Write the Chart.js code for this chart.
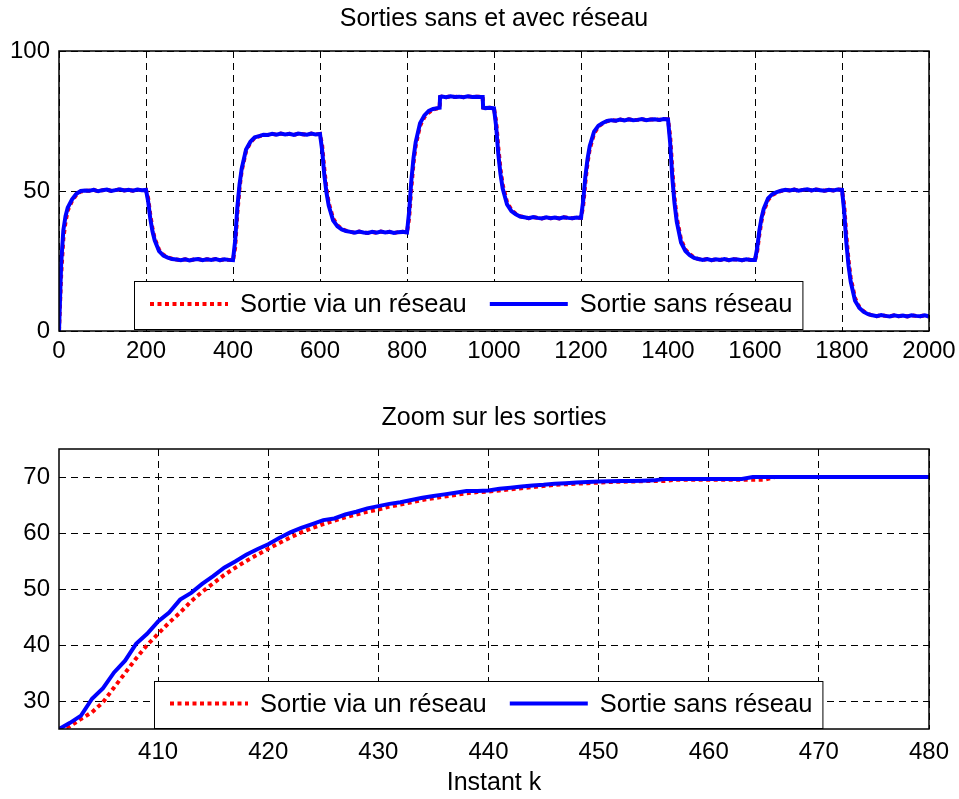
<!DOCTYPE html>
<html>
<head>
<meta charset="utf-8">
<script src="https://cdn.jsdelivr.net/npm/chart.js@4.4.0/dist/chart.umd.min.js"></script>
<style>
body { margin: 0; background: #fff; width: 959px; height: 799px; overflow: hidden; position: relative; }
canvas { position: absolute; left: 0; }
#topChart { top: 0; }
#zoomChart { top: 390px; }
</style>
</head>
<body>
<canvas id="topChart" width="959" height="380"></canvas>
<canvas id="zoomChart" width="959" height="409"></canvas>
<script>
// --- top plot : whole run, k = 0..2000 ---
const kTop = [
0,5,10,15,20,30,40,50,60,70,80,90,100,110,120,130,140,150,160,170,180,190,
200,205,210,215,220,230,240,250,260,270,280,290,300,310,320,330,340,350,360,370,380,390,
400,405,410,415,420,430,440,450,460,470,480,490,500,510,520,530,540,550,560,570,580,590,
600,605,610,615,620,630,640,650,660,670,680,690,700,710,720,730,740,750,760,770,780,790,
800,805,810,815,820,830,840,850,860,870,875,876,880,890,900,910,920,930,940,950,960,970,974,975,980,990,
1000,1005,1010,1015,1020,1030,1040,1050,1060,1070,1080,1090,1100,1110,1120,1130,1140,1150,1160,1170,1180,1190,
1200,1205,1210,1215,1220,1230,1240,1250,1260,1270,1280,1290,1300,1310,1320,1330,1340,1350,1360,1370,1380,1390,
1400,1405,1410,1415,1420,1430,1440,1450,1460,1470,1480,1490,1500,1510,1520,1530,1540,1550,1560,1570,1580,1590,
1600,1605,1610,1615,1620,1630,1640,1650,1660,1670,1680,1690,1700,1710,1720,1730,1740,1750,1760,1770,1780,1790,
1800,1805,1810,1815,1820,1830,1840,1850,1860,1870,1880,1890,1900,1910,1920,1930,1940,1950,1960,1970,1980,1990,2000
];
const yTopSans = [
0,24,36,41,44,47,49,50,50.2,50.1,50.4,49.9,50.3,50.5,50.0,50.3,50.6,50.2,50.4,50.1,50.5,50.3,
50.4,46.2,40.0,35.5,32.4,28.5,26.9,26.2,25.7,25.5,25.3,25.6,25.2,25.5,25.7,25.3,25.6,25.4,25.7,25.3,25.6,25.4,
25.3,32.3,44.2,52.3,58.0,64.8,67.6,69.2,69.6,70.1,70.0,70.4,70.1,70.5,70.2,70.4,70.0,70.5,70.3,70.1,70.5,70.2,
70.4,64.5,55.6,49.3,44.8,39.5,37.4,36.3,35.7,35.4,35.1,35.5,35.2,35.0,35.4,35.1,35.5,35.2,35.4,35.0,35.3,35.4,
35.2,42.8,53.8,61.8,67.5,74.2,77.0,78.6,79.3,79.6,79.7,83.6,83.7,83.5,83.8,83.6,83.7,83.5,83.8,83.6,83.7,83.6,83.6,79.8,79.6,79.7,
79.5,73.0,63.0,56.0,50.9,45.2,42.8,41.7,40.9,40.6,40.3,40.7,40.4,40.2,40.6,40.3,40.5,40.2,40.6,40.4,40.3,40.5,
40.4,46.4,55.1,61.4,66.0,71.2,73.3,74.3,75.0,75.3,75.1,75.5,75.2,75.6,75.3,75.4,75.7,75.3,75.5,75.6,75.4,75.7,
75.6,67.1,54.6,45.6,39.1,31.6,28.6,27.1,26.1,25.7,25.4,25.7,25.3,25.6,25.4,25.7,25.3,25.6,25.5,25.3,25.6,25.4,
25.4,29.6,35.9,40.4,43.6,47.4,48.9,49.6,50.1,50.4,50.2,50.5,50.1,50.4,50.6,50.2,50.5,50.3,50.1,50.4,50.2,50.5,
50.4,42.8,31.5,23.4,17.6,10.8,8.2,6.8,6.0,5.6,5.3,5.7,5.4,5.2,5.6,5.3,5.5,5.2,5.6,5.4,5.3,5.6,5.2
];
const yTopReseau = [
0,20,33,39,43,46.5,48.7,49.8,50.1,50.1,50.4,49.9,50.3,50.5,50.0,50.3,50.6,50.2,50.4,50.1,50.5,50.3,
50.4,47.4,41.4,36.5,33.0,29.0,27.2,26.3,25.8,25.5,25.3,25.6,25.2,25.5,25.7,25.3,25.6,25.4,25.7,25.3,25.6,25.4,
25.3,29.8,42.0,51.0,57.2,64.2,67.4,69.0,69.5,70.0,70.0,70.4,70.1,70.5,70.2,70.4,70.0,70.5,70.3,70.1,70.5,70.2,
70.4,66.2,57.8,50.7,45.8,40.2,37.8,36.5,35.8,35.4,35.1,35.5,35.2,35.0,35.4,35.1,35.5,35.2,35.4,35.0,35.3,35.4,
35.2,40.5,51.1,60.0,66.2,73.3,76.4,78.0,79.1,79.5,79.6,83.5,83.7,83.5,83.8,83.6,83.7,83.5,83.8,83.6,83.7,83.6,83.6,79.8,79.6,79.7,
79.5,74.8,65.5,57.7,52.2,46.0,43.2,41.9,41.0,40.6,40.3,40.7,40.4,40.2,40.6,40.3,40.5,40.2,40.6,40.4,40.3,40.5,
40.4,44.6,53.0,60.0,64.9,70.5,73.0,74.2,74.9,75.3,75.1,75.5,75.2,75.6,75.3,75.4,75.7,75.3,75.5,75.6,75.4,75.7,
75.6,69.6,57.6,47.6,40.6,32.6,29.1,27.4,26.3,25.7,25.4,25.7,25.3,25.6,25.4,25.7,25.3,25.6,25.5,25.3,25.6,25.4,
25.4,28.4,34.4,39.3,42.8,46.8,48.6,49.4,50.0,50.4,50.2,50.5,50.1,50.4,50.6,50.2,50.5,50.3,50.1,50.4,50.2,50.5,
50.4,45.0,34.2,25.3,19.0,11.7,8.5,7.0,6.1,5.6,5.3,5.7,5.4,5.2,5.6,5.3,5.5,5.2,5.6,5.4,5.3,5.6,5.2
];
const xTicksTop = [0,200,400,600,800,1000,1200,1400,1600,1800,2000];
const yTicksTop = [0,50,100];

// --- bottom plot : zoom on k = 401..480 ---
const kZoom = [
401,402,403,404,405,406,407,408,409,410,411,412,413,414,415,416,417,418,419,420,
421,422,423,424,425,426,427,428,429,430,431,432,433,434,435,436,437,438,439,440,
441,442,443,444,445,446,447,448,449,450,451,452,453,454,455,456,457,458,459,460,
461,462,463,464,465,466,467,468,469,470,471,472,473,474,475,476,477,478,479,480
];
const yZoomSans = [
25.0,26.1,27.4,30.4,32.3,35.1,37.2,40.2,42.0,44.2,45.8,48.1,49.3,50.9,52.3,53.8,54.9,56.1,57.1,58.0,
59.1,60.1,60.9,61.6,62.3,62.6,63.3,63.8,64.4,64.8,65.2,65.5,65.9,66.3,66.6,66.9,67.2,67.5,67.5,67.6,
67.9,68.1,68.3,68.5,68.6,68.8,68.9,69.0,69.1,69.2,69.25,69.3,69.3,69.35,69.4,69.65,69.65,69.65,69.65,69.65,
69.65,69.65,69.65,70,70,70,70,70,70,70,70,70,70,70,70,70,70,70,70,70
];
const yZoomReseau = [
25.0,25.5,26.8,28.0,29.8,32.4,35.0,37.6,40.0,42.0,44.0,45.8,47.8,49.5,51.0,52.5,53.8,55.0,56.1,57.2,
58.2,59.2,60.1,60.9,61.6,62.2,62.8,63.3,63.8,64.2,64.7,65.1,65.5,65.9,66.2,66.5,66.8,67.1,67.3,67.4,
67.6,67.8,68.0,68.2,68.4,68.6,68.7,68.8,68.9,69.0,69.1,69.15,69.2,69.25,69.3,69.3,69.5,69.5,69.5,69.5,
69.5,69.5,69.5,69.5,69.5,70,70,70,70,70,70,70,70,70,70,70,70,70,70,70
];
const xTicksZoom = [410,420,430,440,450,460,470,480];
const yTicksZoom = [30,40,50,60,70];

const FONT = '"Liberation Sans", Arial, Helvetica, sans-serif';
Chart.defaults.font.family = FONT;
Chart.defaults.color = '#000';

const pts = (xs, ys) => xs.map((x, i) => ({ x: x, y: ys[i] }));

// box around the axes + MATLAB style legend inside the plot
const frameAndLegend = {
  id: 'frameAndLegend',
  afterDatasetsDraw(chart, args, opts) {
    const ctx = chart.ctx, a = chart.chartArea;
    ctx.save();
    ctx.setLineDash([]);
    ctx.strokeStyle = '#000';
    ctx.lineWidth = 1.5;
    ctx.strokeRect(a.left, a.top, a.right - a.left, a.bottom - a.top);

    ctx.font = '25.5px ' + FONT;
    const ds = chart.data.datasets;
    const w1 = ctx.measureText(ds[0].label).width;
    const w2 = ctx.measureText(ds[1].label).width;
    const boxW = 16 + 78 + 12 + w1 + 23 + 78 + 12 + w2 + 10;
    const x0 = opts.left, y0 = opts.top, h = opts.height;
    ctx.fillStyle = '#fff';
    ctx.fillRect(x0, y0, boxW, h);
    ctx.lineWidth = 1;
    ctx.strokeRect(x0 + 0.5, y0 + 0.5, boxW, h);

    const cy = y0 + h / 2;
    let x = x0 + 16;
    [[ds[0], w1], [ds[1], w2]].forEach(([d, w]) => {
      ctx.strokeStyle = d.borderColor;
      ctx.lineWidth = d.borderWidth;
      ctx.setLineDash(d.borderDash || []);
      ctx.beginPath();
      ctx.moveTo(x, cy - 1);
      ctx.lineTo(x + 78, cy - 1);
      ctx.stroke();
      ctx.setLineDash([]);
      ctx.fillStyle = '#000';
      ctx.textBaseline = 'middle';
      ctx.fillText(d.label, x + 90, cy);
      x += 90 + w + 23;
    });
    ctx.restore();
  }
};

function buildChart(id, cfg) {
  return new Chart(document.getElementById(id), {
    type: 'line',
    data: {
      datasets: [
        { label: 'Sortie via un réseau', data: pts(cfg.k, cfg.reseau), borderColor: '#ff0000',
          borderWidth: 4, borderDash: [4, 3.5], order: 2 },
        { label: 'Sortie sans réseau', data: pts(cfg.k, cfg.sans), borderColor: '#0000ff',
          borderWidth: 4, order: 1 }
      ]
    },
    options: {
      responsive: false,
      animation: false,
      devicePixelRatio: 1,
      layout: { padding: { left: 0, right: 30, top: 0, bottom: 0 } },
      elements: { point: { radius: 0 }, line: { tension: 0, fill: false } },
      plugins: {
        legend: { display: false },
        tooltip: { enabled: false },
        title: {
          display: true, text: cfg.title, fullSize: false, color: '#000',
          font: { size: 25, weight: 'normal' },
          padding: cfg.titlePad
        },
        frameAndLegend: cfg.legend
      },
      scales: {
        x: {
          type: 'linear', min: cfg.xMin, max: cfg.xMax,
          afterBuildTicks: s => { s.ticks = cfg.xTicks.map(v => ({ value: v })); },
          afterFit: s => { s.height = cfg.xHeight; s.paddingLeft = 0; s.paddingRight = 0; },
          grid: { color: '#000', lineWidth: 1, drawTicks: false },
          border: { display: false, dash: [7, 5] },
          ticks: { padding: cfg.xTickPad, font: { size: 24 }, maxRotation: 0, autoSkip: false,
                   callback: v => String(v) },
          title: cfg.xTitle
            ? { display: true, text: cfg.xTitle, font: { size: 25 }, padding: { top: 0, bottom: 1 } }
            : { display: false }
        },
        y: {
          min: cfg.yMin, max: cfg.yMax,
          afterBuildTicks: s => { s.ticks = cfg.yTicks.map(v => ({ value: v })); },
          afterFit: s => { s.width = 59; s.paddingTop = 0; s.paddingBottom = 0; },
          grid: { color: '#000', lineWidth: 1, drawTicks: false },
          border: { display: false, dash: [7, 5] },
          ticks: { padding: 9, font: { size: 24 }, callback: v => String(v) }
        }
      }
    },
    plugins: [frameAndLegend]
  });
}

buildChart('topChart', {
  k: kTop, sans: yTopSans, reseau: yTopReseau,
  title: 'Sorties sans et avec réseau', titlePad: { top: 4, bottom: 17 },
  xMin: 0, xMax: 2000, xTicks: xTicksTop, xHeight: 49, xTickPad: 6,
  yMin: 0, yMax: 100, yTicks: yTicksTop,
  legend: { left: 134, top: 281, height: 48 }
});

buildChart('zoomChart', {
  k: kZoom, sans: yZoomSans, reseau: yZoomReseau,
  title: 'Zoom sur les sorties', titlePad: { top: 13, bottom: 16 },
  xMin: 401, xMax: 480, xTicks: xTicksZoom, xHeight: 70, xTickPad: 9, xTitle: 'Instant k',
  yMin: 25, yMax: 75, yTicks: yTicksZoom,
  legend: { left: 154, top: 291, height: 47 }
});
</script>
</body>
</html>
